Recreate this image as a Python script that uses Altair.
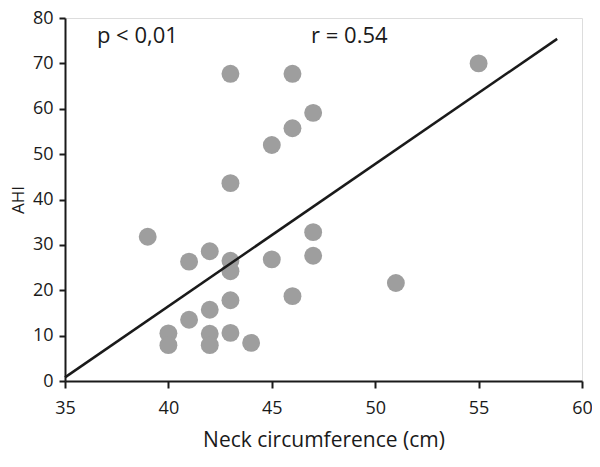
import altair as alt
import pandas as pd

neck = [43, 46, 46, 45, 43, 39, 47, 55, 47, 41, 42, 43, 43, 45, 46, 43, 42, 41, 40, 40, 42, 42, 43, 44, 47, 51]
ahi = [67.7, 67.7, 55.7, 52.0, 43.6, 31.8, 59.1, 70.0, 32.8, 26.3, 28.6, 26.5, 24.2, 26.8, 18.7, 17.8, 15.7, 13.5, 10.5, 7.9, 10.4, 7.9, 10.6, 8.4, 27.6, 21.6]

fit_x = [35, 58.8]
fit_y = [0.8, 75.4]

note_text = ["p < 0,01", "r = 0.54"]
note_x = [38.5, 48.75]
note_y = [76.0, 76.0]

x_ticks = [35, 40, 45, 50, 55, 60]
y_ticks = [0, 10, 20, 30, 40, 50, 60, 70, 80]

FONT = "Open Sans"
INK = "#1a1a1a"

pts = pd.DataFrame({"neck": neck, "ahi": ahi})
fit = pd.DataFrame({"neck": fit_x, "ahi": fit_y})
notes = pd.DataFrame({"neck": note_x, "ahi": note_y, "t": note_text})

xs = alt.Scale(domain=[35, 60], nice=False, zero=False)
ys = alt.Scale(domain=[0, 80], nice=False, zero=False)

xaxis = alt.Axis(values=x_ticks, title="Neck circumference (cm)", grid=False,
                 domainColor=INK, domainWidth=2, tickColor=INK, tickWidth=2,
                 tickSize=7, labelPadding=11, labelFontSize=18, labelFont=FONT,
                 labelColor=INK, titleFont=FONT, titleFontSize=21,
                 titleFontWeight="normal", titleColor=INK, titlePadding=12,
                 labelFlush=False, labelOverlap=False)
yaxis = alt.Axis(values=y_ticks, title="AHI", grid=False,
                 domainColor=INK, domainWidth=2, tickColor=INK, tickWidth=2,
                 tickSize=6, labelPadding=6, labelFontSize=18, labelFont=FONT,
                 labelColor=INK, titleFont=FONT, titleFontSize=17,
                 titleFontWeight="normal", titleColor=INK, titlePadding=5,
                 labelFlush=False, labelOverlap=False)

points = alt.Chart(pts).mark_circle(size=320, color="#9e9e9e", opacity=1).encode(
    x=alt.X("neck:Q", scale=xs, axis=xaxis),
    y=alt.Y("ahi:Q", scale=ys, axis=yaxis),
)

line = alt.Chart(fit).mark_line(color=INK, strokeWidth=2.5).encode(
    x=alt.X("neck:Q", scale=xs),
    y=alt.Y("ahi:Q", scale=ys),
)

text = alt.Chart(notes).mark_text(fontSize=22, font=FONT, color=INK, align="center", baseline="middle").encode(
    x=alt.X("neck:Q", scale=xs),
    y=alt.Y("ahi:Q", scale=ys),
    text="t:N",
)

chart = alt.layer(points, line, text).properties(
    width=517, height=363,
    autosize=alt.AutoSizeParams(type="none"),
    padding={"left": 57, "top": 10, "right": 10, "bottom": 72},
).configure_view(stroke=None).configure(background="white")

chart.save("out.html", embed_options={"renderer": "svg", "actions": False})
